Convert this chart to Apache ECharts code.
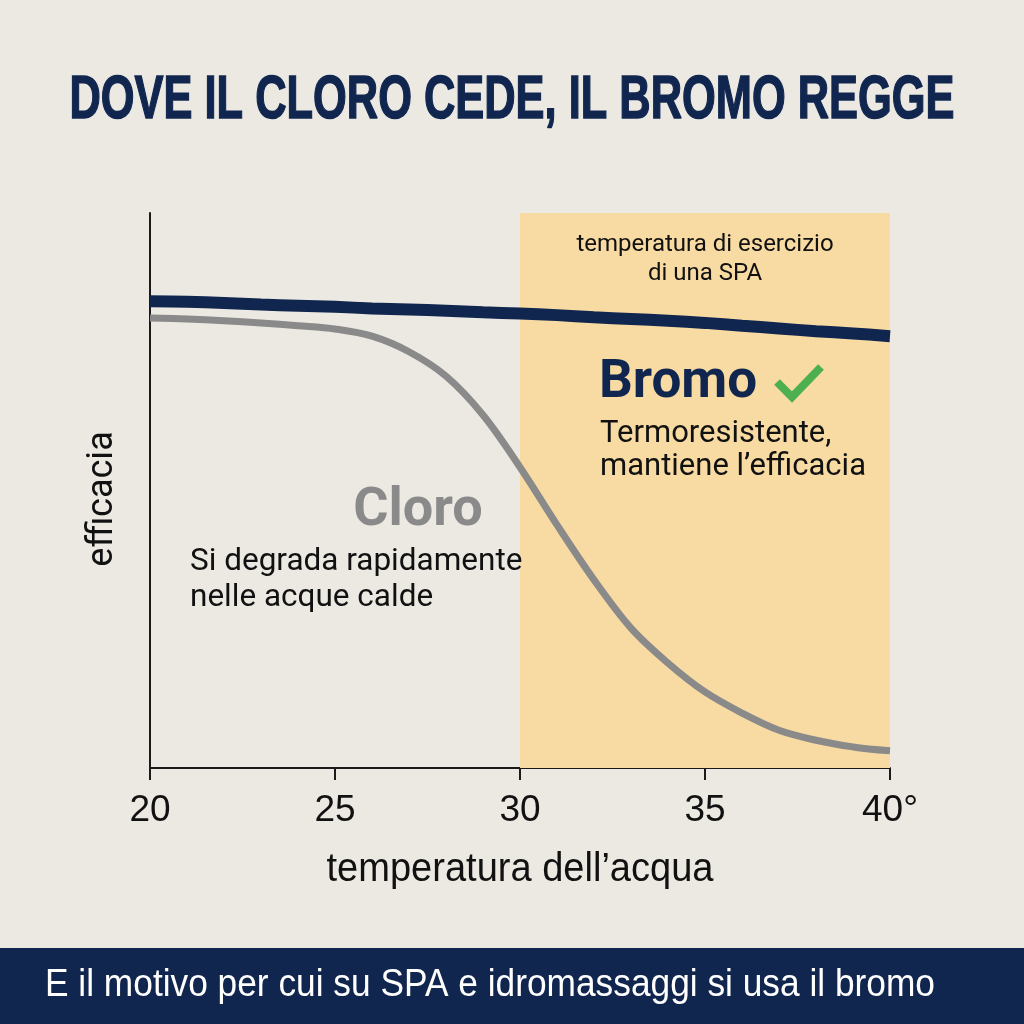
<!DOCTYPE html>
<html><head><meta charset="utf-8">
<script src="https://cdn.jsdelivr.net/npm/echarts@6/dist/echarts.min.js"></script>
<style>html,body{margin:0;padding:0;background:#ece9e2}#c{width:1024px;height:1024px}</style>
</head><body><div id="c"></div>
<script>
const temperatures = [20,21,22,23,24,25,26,27,28,29,30,31,32,33,34,35,36,37,38,39,40];
const bromoValues  = [84.1,84.0,83.8,83.5,83.3,83.1,82.8,82.6,82.4,82.1,81.9,81.6,81.2,80.9,80.6,80.2,79.7,79.2,78.7,78.3,77.8];
const cloroValues  = [81.1,80.9,80.6,80.2,79.7,79.1,77.8,75.0,70.6,63.6,54.2,43.8,33.9,25.2,18.9,13.7,9.9,6.8,5.0,3.8,3.1];
const xTicks = [20,25,30,35,40];
const xTickLabels = ['20','25','30','35','40°'];
const spaRange = [30,40];

const NAVY = '#11264f';
const SANS = 'Roboto, "Noto Sans", sans-serif';
const ARIAL = '"Liberation Sans", Arial, sans-serif';

const ctx = document.createElement('canvas').getContext('2d');
function fitScale(text, font, target) {
  ctx.font = font;
  return target / ctx.measureText(text).width;
}
const titleText = 'DOVE IL CLORO CEDE, IL BROMO REGGE';
const titleScale = fitScale(titleText, 'bold 62px "Liberation Sans"', 885);
const bannerText = 'E il motivo per cui su SPA e idromassaggi si usa il bromo';
const bannerScale = fitScale(bannerText, '38px "Liberation Sans"', 890);
const xNameText = 'temperatura dell\u2019acqua';
const xNameScale = fitScale(xNameText, '40px "Liberation Sans"', 387);

const chart = echarts.init(document.getElementById('c'));
chart.setOption({
  backgroundColor: '#ece9e2',
  animation: false,
  grid: {left: 150, right: 134, top: 213, bottom: 256},
  xAxis: {
    type: 'value', min: 20, max: 40, interval: 5,
    axisLine: {show: true, lineStyle: {color: '#1a1a1a', width: 2}},
    axisTick: {show: true, length: 12, lineStyle: {color: '#1a1a1a', width: 2}},
    splitLine: {show: false},
    axisLabel: {
      margin: 24, fontSize: 37, color: '#111', fontFamily: ARIAL,
      formatter: v => xTickLabels[xTicks.indexOf(v)]
    }
  },
  yAxis: {
    type: 'value', min: 0, max: 100,
    axisLine: {show: true, lineStyle: {color: '#1a1a1a', width: 2}},
    axisTick: {show: false}, axisLabel: {show: false}, splitLine: {show: false}
  },
  series: [
    {
      name: 'SPA', type: 'line', data: [], silent: true,
      markArea: {silent: true, itemStyle: {color: '#f8dba3'},
        data: [[{xAxis: spaRange[0]}, {xAxis: spaRange[1]}]]}
    },
    {
      name: 'Cloro', type: 'line', smooth: 0.35, symbol: 'none',
      data: temperatures.map((t,i)=>[t, cloroValues[i]]),
      lineStyle: {color: '#8a8a8a', width: 7}, z: 3
    },
    {
      name: 'Bromo', type: 'line', smooth: 0.3, symbol: 'none',
      data: temperatures.map((t,i)=>[t, bromoValues[i]]),
      lineStyle: {color: NAVY, width: 12}, z: 4
    }
  ],
  graphic: [
    {type: 'text', x: 512, y: 101, scaleX: titleScale, style: {text: titleText, fontSize: 62, fontWeight: 'bold', fontFamily: ARIAL, fill: NAVY, stroke: NAVY, lineWidth: 1.5, align: 'center', verticalAlign: 'middle'}},
    {type: 'rect', shape: {x: 0, y: 948, width: 1024, height: 76}, style: {fill: NAVY}},
    {type: 'text', x: 490, y: 986, scaleX: bannerScale, style: {text: bannerText, fontSize: 38, fontFamily: ARIAL, fill: '#fff', align: 'center', verticalAlign: 'middle'}},
    {type: 'text', x: 520, y: 870, scaleX: xNameScale, style: {text: xNameText, fontSize: 40, fontFamily: ARIAL, fill: '#111', align: 'center', verticalAlign: 'middle'}},
    {type: 'text', x: 103, y: 499, rotation: Math.PI/2, style: {text: 'efficacia', fontSize: 36, fontFamily: SANS, fill: '#111', align: 'center', verticalAlign: 'middle'}},
    {type: 'text', x: 705, y: 259, z: 10, style: {text: 'temperatura di esercizio\ndi una SPA', fontSize: 24, lineHeight: 29, fontFamily: SANS, fill: '#111', align: 'center', verticalAlign: 'middle'}},
    {type: 'text', x: 599, y: 384, z: 10, style: {text: 'Bromo', fontSize: 53, fontWeight: 'bold', fontFamily: SANS, fill: NAVY, align: 'left', verticalAlign: 'middle'}},
    {type: 'polyline', z: 10, shape: {points: [[777,382],[792,397],[821,367]]}, style: {stroke: '#4caf50', lineWidth: 8, fill: null, lineCap: 'butt', lineJoin: 'miter'}},
    {type: 'text', x: 600, y: 451, z: 10, style: {text: 'Termoresistente,\nmantiene l\u2019efficacia', fontSize: 31, lineHeight: 33, fontFamily: SANS, fill: '#111', align: 'left', verticalAlign: 'middle'}},
    {type: 'text', x: 418, y: 511, z: 10, style: {text: 'Cloro', fontSize: 54, fontWeight: 'bold', fontFamily: SANS, fill: '#8a8a8a', align: 'center', verticalAlign: 'middle'}},
    {type: 'text', x: 190, y: 580, z: 10, style: {text: 'Si degrada rapidamente\nnelle acque calde', fontSize: 31.5, lineHeight: 36, fontFamily: SANS, fill: '#111', align: 'left', verticalAlign: 'middle'}}
  ]
});
</script></body></html>
